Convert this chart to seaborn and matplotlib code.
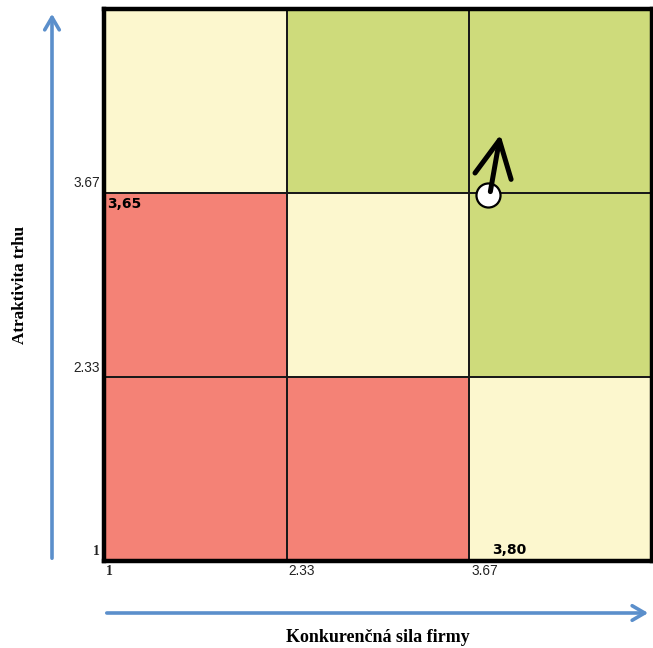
import numpy as np
import pandas as pd
import matplotlib
matplotlib.use("Agg")
import matplotlib.pyplot as plt
from matplotlib.colors import ListedColormap
import seaborn as sns

# Matrix zones, bottom row first (0 = weak, 1 = medium, 2 = strong)
zone_rows = [
    [0, 0, 1],
    [0, 1, 2],
    [1, 2, 2],
]
zone_colors = ["#F48276", "#FCF7CE", "#CEDB7B"]

# Axis scale and tick values
axis_min, axis_max = 1, 5
tick_values = [1, 2.33, 3.67]
tick_labels = ["1", "2.33", "3.67"]

# Business position (x = competitive strength, y = market attractiveness)
pos_x = [3.80]
pos_y = [3.65]
pos_x_label = "3,80"
pos_y_label = "3,65"

x_title = "Konkurenčná sila firmy"
y_title = "Atraktivita trhu"

W, H = 653, 648
sns.set_theme(style="white")
fig = plt.figure(figsize=(W / 100, H / 100), dpi=100)
ax = fig.add_axes([104 / W, 1 - 561 / H, 548 / W, 552 / H])

n = len(zone_rows)


def g(v):
    """Convert a score on the 1-5 scale into heatmap cell coordinates."""
    return (np.asarray(v, dtype=float) - axis_min) * n / (axis_max - axis_min)


grid = pd.DataFrame(zone_rows)
sns.heatmap(grid, ax=ax, cmap=ListedColormap(zone_colors), vmin=-0.5, vmax=2.5,
            cbar=False, linewidths=1.2, linecolor="#1a1a1a", square=False)
ax.set_xlim(0, n)
ax.set_ylim(0, n)
ax.set_xticks([])
ax.set_yticks([])
ax.set_xlabel("")
ax.set_ylabel("")
for s in ax.spines.values():
    s.set_visible(True)
    s.set_color("black")
    s.set_linewidth(3.2)

# Tick labels placed beside the grid lines
sans = ["Liberation Sans", "DejaVu Sans"]
serif = ["Liberation Serif", "DejaVu Serif"]
for v, lab in zip(tick_values, tick_labels):
    is_one = lab == "1"
    fam = serif if is_one else sans
    wt = "bold" if is_one else "normal"
    ax.annotate(lab, xy=(g(v), 0), xycoords=ax.get_xaxis_transform(),
                xytext=(1.5, -7.5), textcoords="offset points",
                ha="left", va="center", fontsize=9.8, family=fam, fontweight=wt,
                color="#222222", annotation_clip=False)
    ax.annotate(lab, xy=(0, g(v)), xycoords=ax.get_yaxis_transform(),
                xytext=(-3, 7), textcoords="offset points",
                ha="right", va="center", fontsize=9.8, family=fam, fontweight=wt,
                color="#222222", annotation_clip=False)

# Position marker and its direction of movement
sns.scatterplot(x=g(pos_x), y=g(pos_y), ax=ax, s=300, color="white",
                edgecolor="black", linewidth=1.6, zorder=5, legend=False)
ax.annotate("", xy=(g(pos_x[0]) + 0.07, g(pos_y[0]) + 0.33),
            xytext=(g(pos_x[0]) + 0.015, g(pos_y[0]) + 0.02),
            arrowprops=dict(arrowstyle="->,head_length=2.2,head_width=1.1",
                            lw=3.6, color="black", shrinkA=0, shrinkB=0,
                            capstyle="round"),
            zorder=6)

# Value labels
ax.annotate(pos_y_label, xy=(0, g(pos_y[0])), xycoords=ax.get_yaxis_transform(),
            xytext=(2.5, -1.5), textcoords="offset points", ha="left", va="top",
            fontsize=10, fontweight="bold", color="black", family="DejaVu Sans")
ax.annotate(pos_x_label, xy=(g(pos_x[0]), 0), xycoords=ax.get_xaxis_transform(),
            xytext=(3, 3), textcoords="offset points", ha="left", va="bottom",
            fontsize=10, fontweight="bold", color="black", family="DejaVu Sans")

# Blue axis arrows outside the matrix
blue = "#5B8FCB"
fig.patches.append(matplotlib.patches.FancyArrowPatch(
    (52 / W, 1 - 561 / H), (52 / W, 1 - 11 / H), transform=fig.transFigure,
    arrowstyle="->,head_length=6,head_width=3.5", lw=2.6, color=blue,
    mutation_scale=1.5))
fig.patches.append(matplotlib.patches.FancyArrowPatch(
    (104 / W, 1 - 613 / H), (651 / W, 1 - 613 / H), transform=fig.transFigure,
    arrowstyle="->,head_length=6,head_width=3.5", lw=2.6, color=blue,
    mutation_scale=1.5))

fig.text(20 / W, 1 - 285 / H, y_title, rotation=90, ha="center", va="center",
         fontsize=12.3, fontweight="bold", family=serif, color="black")
fig.text(378 / W, 1 - 637 / H, x_title, ha="center", va="center",
         fontsize=13, fontweight="bold", family=serif, color="black")

fig.savefig("out.png", dpi=100)
